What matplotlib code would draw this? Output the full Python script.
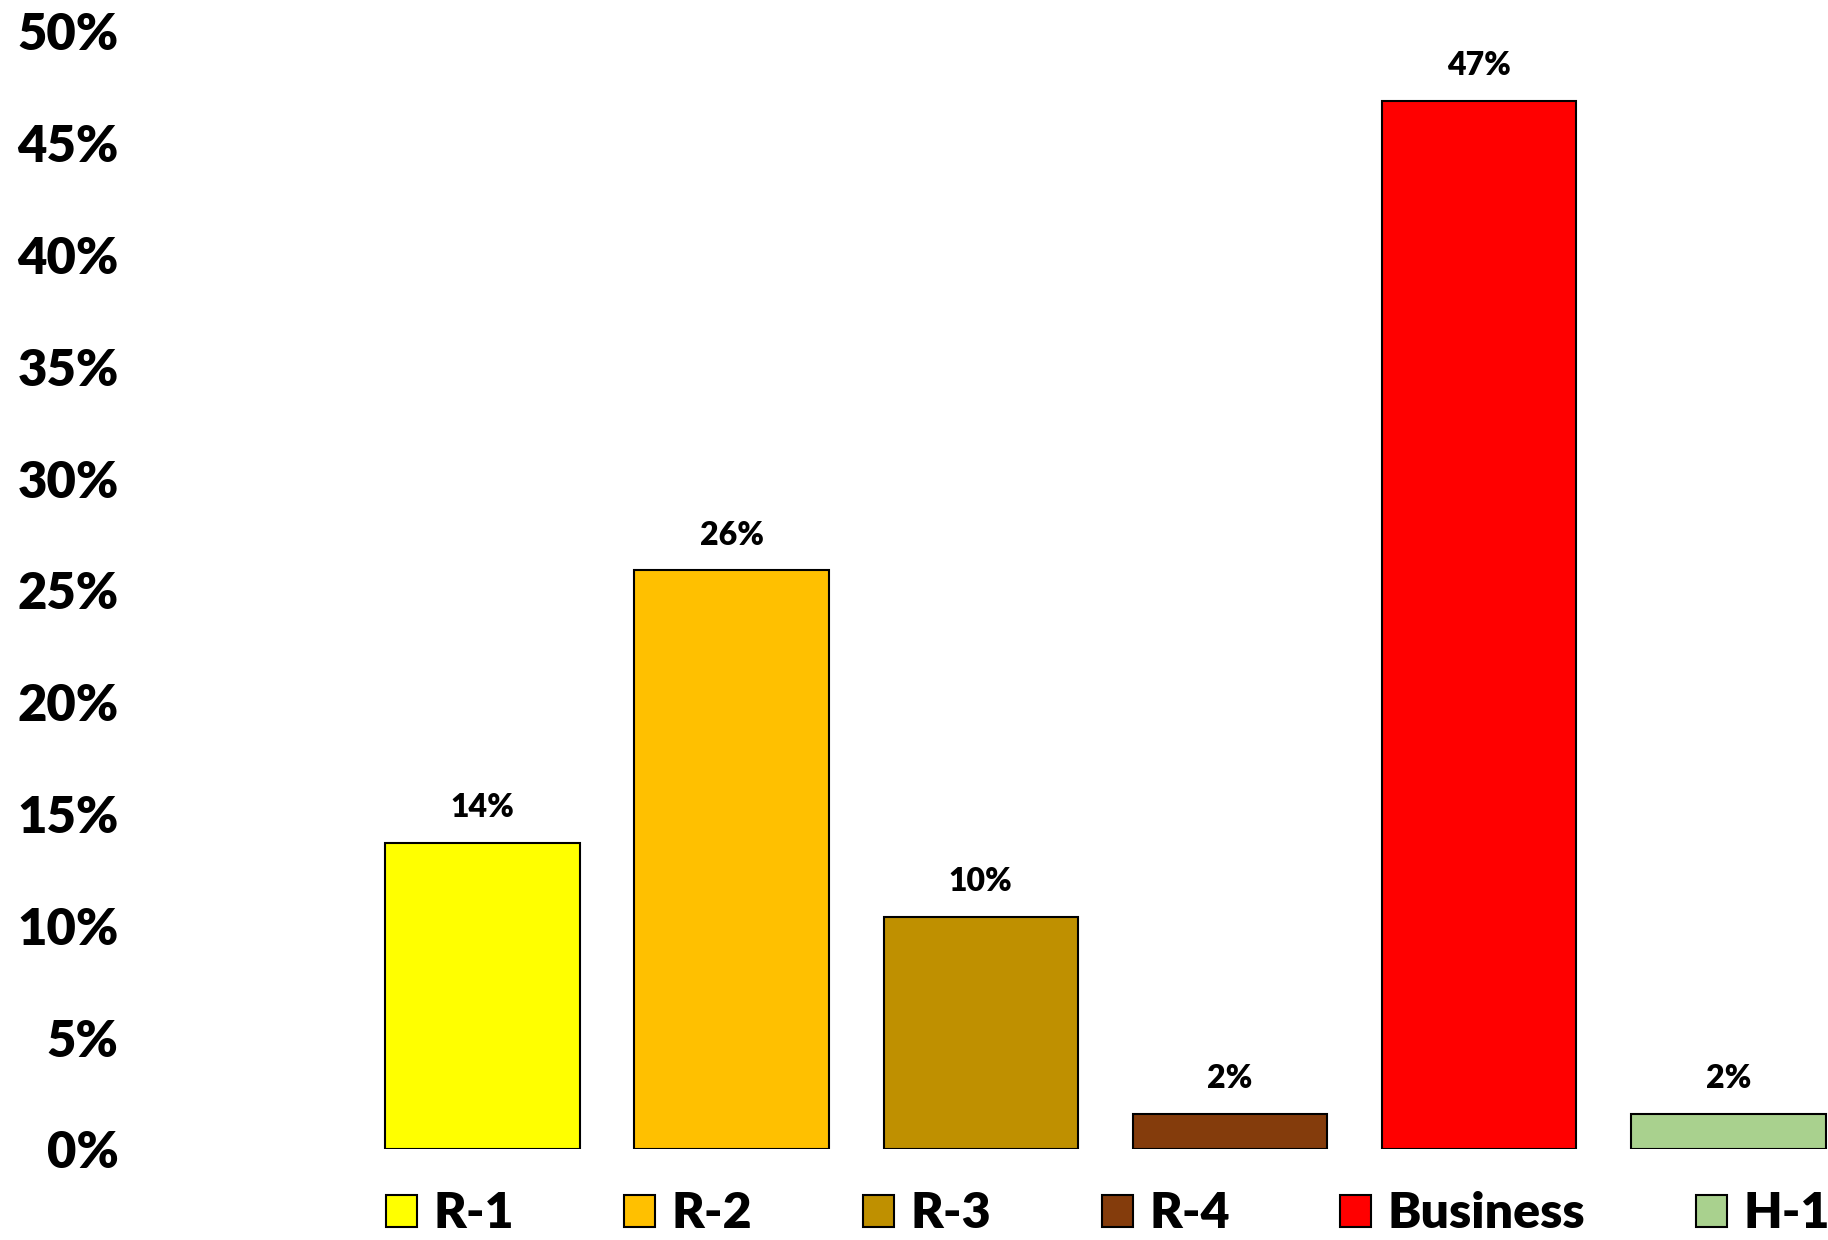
import matplotlib.pyplot as plt
from matplotlib.patches import Patch

# share of total by district type
categories = ['R-1', 'R-2', 'R-3', 'R-4', 'Business', 'H-1']
shares = [13.7, 25.9, 10.4, 1.6, 46.9, 1.6]
colors = ['#FFFF00', '#FFC000', '#BF9000', '#843C0C', '#FF0000', '#A9D18E']
yticks = [0, 5, 10, 15, 20, 25, 30, 35, 40, 45, 50]

plt.rcParams['font.family'] = ['Lato', 'DejaVu Sans']
plt.rcParams['font.weight'] = 'heavy'

fig = plt.figure(figsize=(18.28, 12.40), dpi=100)
ax = fig.add_axes([0.071, 0.073, 0.929, 0.9016])

x = list(range(len(categories)))
bars = ax.bar(x, shares, width=0.78, color=colors, edgecolor='black', linewidth=1.5)

for xi, v in zip(x, shares):
    ax.annotate(f'{v:.0f}%', xy=(xi, v), xytext=(0, 15), textcoords='offset points',
                ha='center', va='bottom', fontsize=23, fontweight='heavy')

ax.set_xlim(-1.415, 5.4)
ax.set_ylim(0, 50)
ax.set_yticks(yticks)
ax.set_yticklabels([f'{t}%' for t in yticks], fontsize=36.5, fontweight='heavy')
ax.set_xticks([])
ax.tick_params(axis='y', length=0, pad=8)
for s in ax.spines.values():
    s.set_visible(False)

handles = [Patch(facecolor=c, edgecolor='black', linewidth=1.5) for c in colors]
fig.legend(handles, categories, loc='center', bbox_to_anchor=(0.606, 0.021), ncol=6,
           frameon=False, prop={'size': 36, 'weight': 'heavy'},
           handlelength=0.62, handleheight=0.62,
           handletextpad=0.33, columnspacing=2.21, borderaxespad=0, borderpad=0)

fig.savefig('out.png', dpi=100)
